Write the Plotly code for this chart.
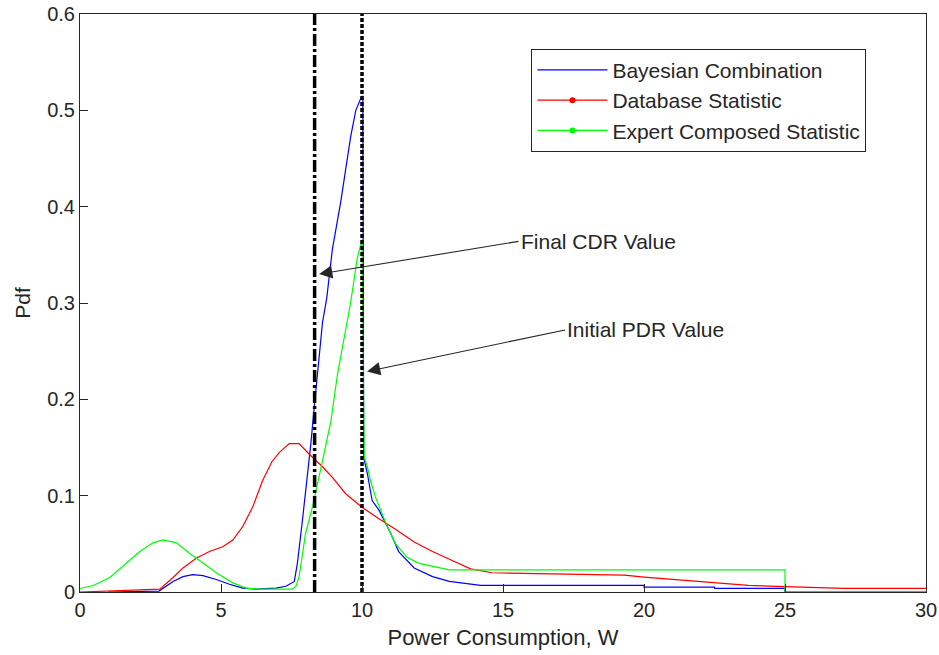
import plotly.graph_objects as go

# ---- data ----
bayes_x = [1.0, 2.8, 3.3, 3.65, 4.0, 4.36, 4.83, 5.3, 5.77, 6.24, 6.95, 7.3, 7.6, 7.71, 7.89, 8.01, 8.19, 8.3,
           8.48, 8.6, 8.75, 8.95, 9.24, 9.42, 9.6, 9.78, 9.95, 10.03, 10.06, 10.19, 10.36, 10.6, 11.0, 11.3,
           11.85, 12.5, 13.1, 14.2, 20.0, 20.0, 22.5, 22.5, 25.0, 25.0, 30.0]
bayes_y = [0.0, 0.001, 0.011, 0.016, 0.018, 0.017, 0.013, 0.008, 0.004, 0.003, 0.004, 0.006, 0.011, 0.030,
           0.075, 0.105, 0.155, 0.19, 0.245, 0.28, 0.305, 0.356, 0.404, 0.438, 0.473, 0.500, 0.512, 0.515,
           0.14, 0.123, 0.095, 0.085, 0.062, 0.042, 0.025, 0.016, 0.011, 0.0069, 0.0069, 0.005, 0.005,
           0.0038, 0.0038, 0.0, 0.0]

db_x = [0.0, 2.83, 3.3, 3.65, 4.12, 4.59, 5.06, 5.42, 5.77, 6.12, 6.48, 6.8, 7.07, 7.42, 7.77, 8.13, 8.6, 8.95,
        9.42, 10.0, 10.6, 11.2, 11.85, 12.5, 13.1, 13.85, 14.6, 19.3, 20.0, 20.6, 22.0, 22.9, 23.7, 25.0,
        27.1, 30.0]
db_y = [0.0, 0.003, 0.015, 0.025, 0.035, 0.042, 0.047, 0.054, 0.068, 0.088, 0.116, 0.135, 0.145, 0.154,
        0.154, 0.143, 0.130, 0.119, 0.102, 0.088, 0.076, 0.065, 0.052, 0.042, 0.034, 0.024, 0.020, 0.0175,
        0.0155, 0.014, 0.0107, 0.0086, 0.0069, 0.0055, 0.0038, 0.0038]

exp_x = [0.0, 0.47, 1.06, 1.53, 2.12, 2.59, 2.94, 3.42, 3.89, 4.36, 4.83, 5.42, 5.89, 6.36, 7.54, 7.66, 7.77,
         8.0, 8.24, 8.6, 8.9, 9.13, 9.36, 9.6, 9.83, 10.0, 10.08, 10.19, 10.3, 10.47, 10.84, 11.19, 11.6,
         12.0, 12.6, 13.1, 25.0, 25.0, 30.0]
exp_y = [0.0036, 0.0067, 0.015, 0.027, 0.042, 0.051, 0.054, 0.051, 0.040, 0.030, 0.020, 0.0095, 0.004,
         0.003, 0.003, 0.006, 0.016, 0.061, 0.088, 0.136, 0.178, 0.226, 0.263, 0.301, 0.346, 0.366, 0.14,
         0.13, 0.116, 0.099, 0.072, 0.050, 0.036, 0.030, 0.026, 0.023, 0.023, 0.0, 0.0]

final_cdr = 8.32
initial_pdr = 10.0
y_span = [0.0, 0.6]

series_names = ["Bayesian Combination", "Database Statistic", "Expert Composed Statistic"]
series_colors = ["#0000ff", "#ff0000", "#00ff00"]

fig = go.Figure()
for xs, ys, c in [(bayes_x, bayes_y, series_colors[0]), (db_x, db_y, series_colors[1]),
                  (exp_x, exp_y, series_colors[2])]:
    fig.add_trace(go.Scatter(x=xs, y=ys, mode="lines", line=dict(color=c, width=1.2),
                             showlegend=False, hoverinfo="skip"))

# legend-only entries
fig.add_trace(go.Scatter(x=[None], y=[None], mode="lines", name=series_names[0],
                         line=dict(color=series_colors[0], width=1.2)))
for i in (1, 2):
    fig.add_trace(go.Scatter(x=[None], y=[None], mode="lines+markers", name=series_names[i],
                             line=dict(color=series_colors[i], width=1.2),
                             marker=dict(color=series_colors[i], size=6)))

fig.add_trace(go.Scatter(x=[final_cdr, final_cdr], y=y_span, mode="lines", showlegend=False,
                         line=dict(color="black", width=3.5, dash="12px,3px,3px,3px")))
fig.add_trace(go.Scatter(x=[initial_pdr, initial_pdr], y=y_span, mode="lines", showlegend=False,
                         line=dict(color="black", width=3.5, dash="4px,2px")))

fnt = "Liberation Sans, Arial, sans-serif"
tc = "#262626"
fs = 21

fig.add_annotation(x=8.48, y=0.330, ax=15.55, ay=0.364, xref="x", yref="y", axref="x", ayref="y",
                   text="Final CDR Value", xanchor="left", showarrow=True, arrowhead=2, arrowsize=2.4,
                   arrowwidth=1.1, arrowcolor=tc, font=dict(family=fnt, size=fs, color=tc))
fig.add_annotation(x=10.18, y=0.229, ax=17.2, ay=0.272, xref="x", yref="y", axref="x", ayref="y",
                   text="Initial PDR Value", xanchor="left", showarrow=True, arrowhead=2, arrowsize=2.4,
                   arrowwidth=1.1, arrowcolor=tc, font=dict(family=fnt, size=fs, color=tc))

axis_common = dict(showline=True, linecolor=tc, linewidth=1, mirror=True, ticks="inside", ticklen=8,
                   tickcolor=tc, tickwidth=1, showgrid=False, zeroline=False, ticklabeloverflow="allow",
                   automargin=False, tickfont=dict(family=fnt, size=20, color=tc))
fig.update_xaxes(range=[0, 30.0001], tickvals=[0, 5, 10, 15, 20, 25, 30],
                 title=dict(text="Power Consumption, W", font=dict(family=fnt, size=22, color=tc), standoff=9),
                 **axis_common)
fig.update_yaxes(range=[0, 0.60001], tickvals=[0, 0.1, 0.2, 0.3, 0.4, 0.5, 0.6],
                 ticktext=["0", "0.1", "0.2", "0.3", "0.4", "0.5", "0.6"],
                 title=dict(text="Pdf", font=dict(family=fnt, size=fs, color=tc), standoff=10),
                 **axis_common)

fig.update_layout(
    width=939, height=655, margin=dict(l=80, r=13, t=14, b=63, autoexpand=False),
    plot_bgcolor="white", paper_bgcolor="white",
    legend=dict(x=0.5336, y=0.94, xanchor="left", yanchor="top", bgcolor="white",
                bordercolor=tc, borderwidth=1, font=dict(family=fnt, size=fs, color=tc),
                itemwidth=70, tracegroupgap=0),
)

fig.write_html("out.html")
